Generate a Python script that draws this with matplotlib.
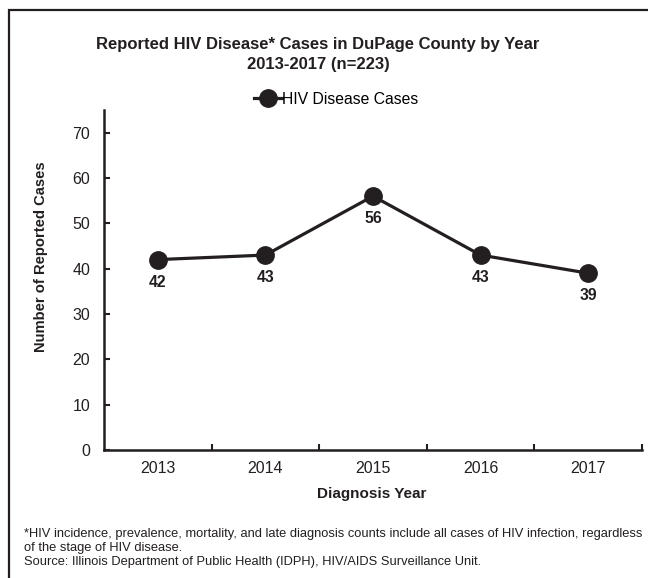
import numpy as np
import matplotlib
matplotlib.use('Agg')
import matplotlib.pyplot as plt
from matplotlib.patches import Rectangle

plt.rcParams['font.family'] = ['Liberation Sans', 'DejaVu Sans']

years = ['2013', '2014', '2015', '2016', '2017']
cases = [42, 43, 56, 43, 39]
yticks = [0, 10, 20, 30, 40, 50, 60, 70]

ink = '#231f20'

fig = plt.figure(figsize=(6.48, 5.78), dpi=100)
ax = fig.add_axes([104 / 648, 128 / 578, 538 / 648, 340 / 578])

x = np.arange(len(years))
ax.plot(x, cases, color=ink, lw=2.3, marker='o', markersize=12.5,
        label='HIV Disease Cases')
for xi, v in zip(x, cases):
    ax.annotate(str(v), (xi, v), xytext=(0, -11), textcoords='offset points',
                ha='center', va='top', fontsize=11.3, fontweight='bold', color=ink)

ax.set_xlim(-0.5, len(years) - 0.5)
ax.set_ylim(0, 75)
ax.set_yticks(yticks)
ax.set_xticks(x)
ax.set_xticklabels(years)
ax.set_xticks(np.arange(0.5, len(years), 1.0), minor=True)
ax.tick_params(axis='x', which='major', length=0, pad=8, labelsize=11.5, labelcolor=ink)
ax.tick_params(axis='x', which='minor', direction='in', length=4, width=1.5, color=ink)
ax.tick_params(axis='y', direction='in', length=4, width=1.5, color=ink,
               labelsize=11.5, labelcolor=ink, pad=10)

for s in ['top', 'right']:
    ax.spines[s].set_visible(False)
for s in ['left', 'bottom']:
    ax.spines[s].set_linewidth(1.8)
    ax.spines[s].set_color(ink)

ax.legend(loc='center', bbox_to_anchor=(336 / 648, 1 - 99 / 578),
          bbox_transform=fig.transFigure, frameon=False, fontsize=11.3,
          handlelength=1.75, handletextpad=0.0, borderaxespad=0, borderpad=0)

fig.text(318 / 648, 1 - 45 / 578, 'Reported HIV Disease* Cases in DuPage County by Year',
         ha='center', va='center', fontsize=12, fontweight='bold', color=ink)
fig.text(318 / 648, 1 - 65 / 578, '2013-2017 (n=223)',
         ha='center', va='center', fontsize=12, fontweight='bold', color=ink)
fig.text(41 / 648, 1 - 257 / 578, 'Number of Reported Cases', rotation=90,
         ha='center', va='center', fontsize=10.6, fontweight='bold', color=ink)
fig.text(372 / 648, 1 - 494 / 578, 'Diagnosis Year',
         ha='center', va='center', fontsize=11, fontweight='bold', color=ink)

notes = ['*HIV incidence, prevalence, mortality, and late diagnosis counts include all cases of HIV infection, regardless',
         'of the stage of HIV disease.',
         'Source: Illinois Department of Public Health (IDPH), HIV/AIDS Surveillance Unit.']
for i, line in enumerate(notes):
    fig.text(24 / 648, 1 - (534 + i * 14.2) / 578, line, ha='left', va='center',
             fontsize=9.3, color=ink)

fig.patches.append(Rectangle((9 / 648, -0.1), 1.2, 1.1 - 10 / 578, transform=fig.transFigure,
                             fill=False, lw=1.6, edgecolor=ink))

fig.savefig('out.png', dpi=100)
